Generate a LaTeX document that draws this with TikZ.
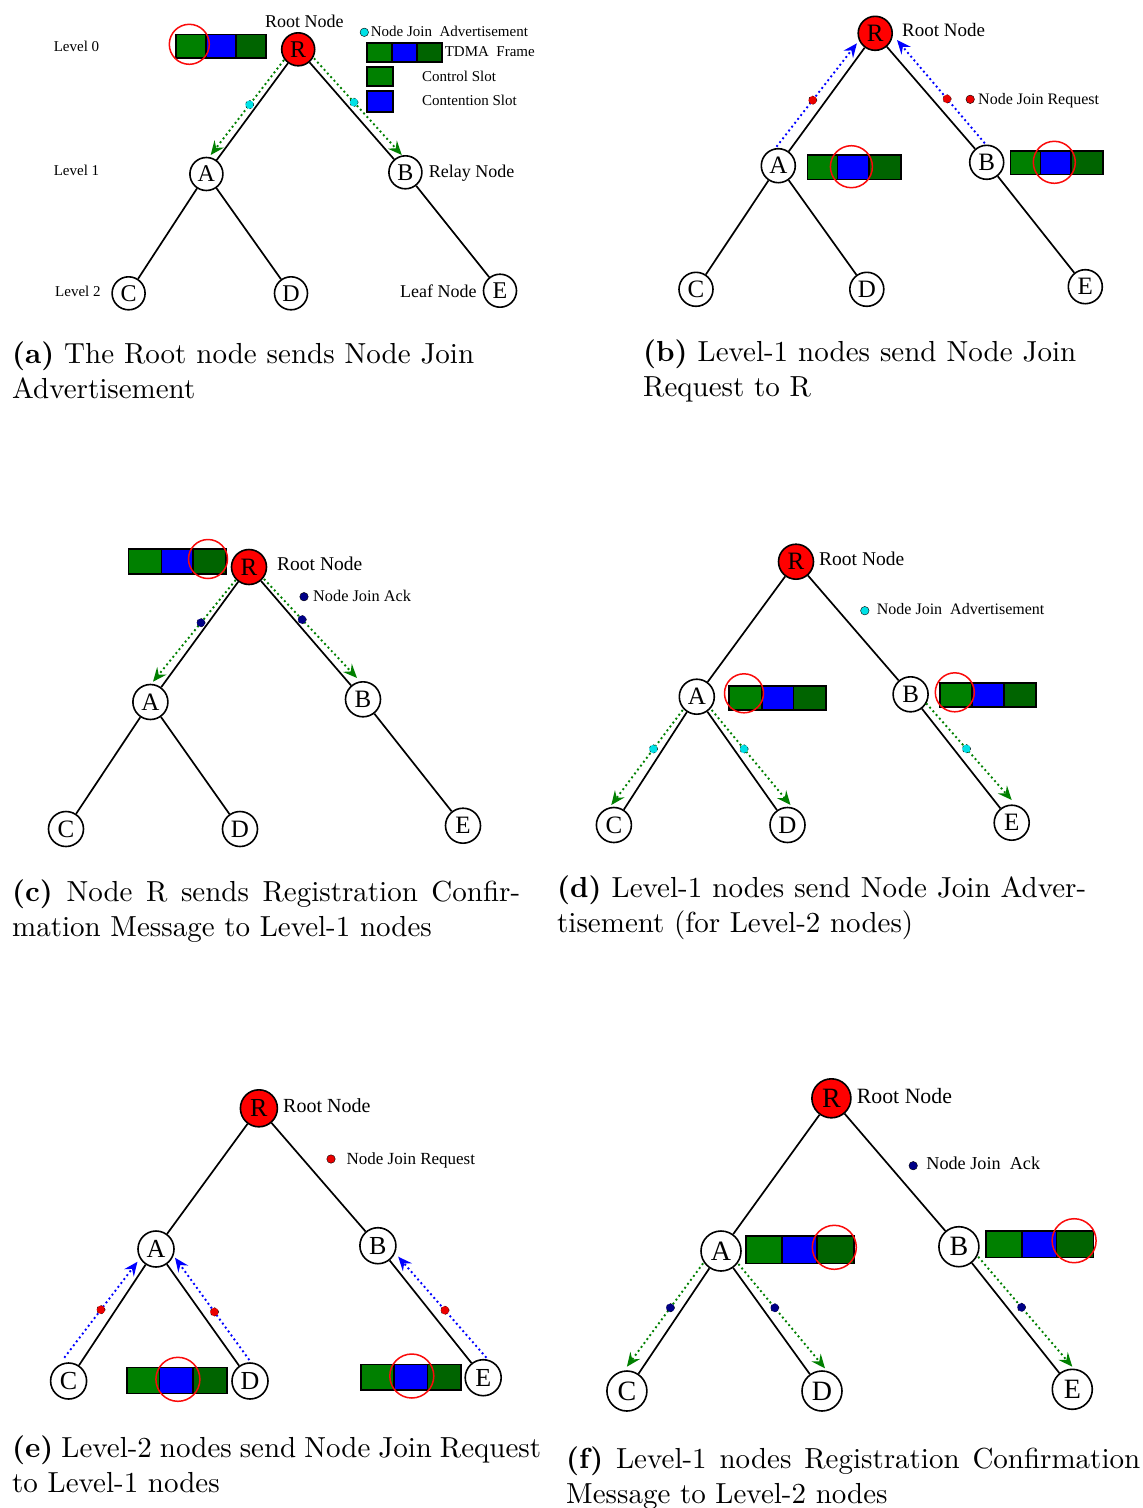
\documentclass[tikz,border=0pt]{standalone}
\usepackage{fontspec}
\newfontfamily\tms{Liberation Serif}
\newfontfamily\capfont{lmroman10-regular}[Extension=.otf,BoldFont=lmroman10-bold]
\usetikzlibrary{arrows.meta,calc}

\definecolor{slotctrl}{RGB}{0,128,0}
\definecolor{slotcont}{RGB}{0,0,255}
\definecolor{slotdark}{RGB}{0,100,0}
\definecolor{rootred}{RGB}{255,0,0}
\definecolor{hired}{RGB}{250,10,10}
\definecolor{advcyan}{RGB}{0,225,230}
\definecolor{acknavy}{RGB}{0,0,135}
\definecolor{reqred}{RGB}{235,0,0}
\definecolor{arrgreen}{RGB}{0,128,0}
\definecolor{arrblue}{RGB}{0,0,255}

\def\nsz{33}\def\nfs{24}

\tikzset{
  tnode/.style={circle,draw,line width=1.6pt,fill=white,inner sep=0pt,
    minimum size=\nsz pt,font=\tms\fontsize{\nfs}{\nfs}\selectfont},
  rootnode/.style={tnode,fill=rootred},
  edge/.style={line width=1.7pt,black},
  lbl/.style={font=\tms\fontsize{#1}{#1}\selectfont,inner sep=0pt,anchor=base west},
  captxt/.style={font=\capfont\fontsize{29}{35}\selectfont,inner sep=0pt,anchor=base west},
  msg/.style={circle,draw=black,line width=0.4pt,fill=#1,inner sep=0pt,minimum size=8.5pt},
  advarrow/.style={draw=arrgreen,line width=1.9pt,dash pattern=on 1.9pt off 3pt,
    -{Stealth[length=14pt,width=12pt,inset=5pt]}},
  reqarrow/.style={draw=arrblue,line width=1.9pt,dash pattern=on 1.9pt off 3pt,
    -{Stealth[length=14pt,width=12pt,inset=5pt]}},
  slotline/.style={draw=black,line width=1.6pt},
  hilite/.style={draw=hired,line width=1.5pt},
}

% three-slot TDMA frame: x0 x1 x2 x3 ytop ybottom
\newcommand\slotframe[6]{%
  \filldraw[slotline,fill=slotctrl] (#1,#5) rectangle (#2,#6);
  \filldraw[slotline,fill=slotcont] (#2,#5) rectangle (#3,#6);
  \filldraw[slotline,fill=slotdark] (#3,#5) rectangle (#4,#6);}

% tree edges R-A, R-B, A-C, A-D, B-E for a panel prefix
\newcommand\treeedges[1]{%
  \draw[edge] (#1R)--(#1A) (#1R)--(#1B) (#1A)--(#1C) (#1A)--(#1D) (#1B)--(#1E);}

\begin{document}
\begin{tikzpicture}[x=1pt,y=-1pt]
\useasboundingbox (0,0) rectangle (1143,1508);
\fill[white] (0,0) rectangle (1143,1508);

% ---------------- (a) ----------------
\def\nsz{33}\def\nfs{24}
\node[rootnode] (aR) at (298.2,49.3) {R};
\node[tnode] (aA) at (206.4,174) {A};
\node[tnode] (aB) at (405.4,172.3) {B};
\node[tnode] (aC) at (128.6,293.3) {C};
\node[tnode] (aD) at (291,293.3) {D};
\node[tnode] (aE) at (500,290.7) {E};
\treeedges{a}
\slotframe{176}{206}{235.7}{266}{34.3}{57.7}
\draw[hilite] (189.3,44.3) circle (20);
\draw[advarrow] ($(aR)+(-14.2,10.7)$) -- node[msg=advcyan,pos=0.47] (am1) {} ($(aA)+(4.3,-19)$);
\draw[advarrow] ($(aR)+(15.8,9)$) -- node[msg=advcyan,pos=0.455] (am2) {} ($(aB)+(-3.6,-17.3)$);
\node[lbl=18] (aroot) at (265,27) {Root Node};
\node[lbl=15] (alev0) at (53.6,51.8) {Level 0};
\node[lbl=15] (alev1) at (53.6,175.2) {Level 1};
\node[lbl=15] (alev2) at (55,296.8) {Level 2};
\node[lbl=18] (arelay) at (428.6,177.1) {Relay Node};
\node[lbl=18] (aleaf) at (400,297.7) {Leaf Node};
\node[msg=advcyan] (akey) at (364.3,32.3) {};
\node[lbl=15] (akeytxt) at (370.7,36.8) {Node Join~~Advertisement};
\slotframe{367}{391.8}{416.8}{441.8}{42.7}{61.7}
\node[lbl=15] (aframetxt) at (444.6,56.8) {TDMA~~Frame};
\filldraw[slotline,fill=slotctrl] (367,66.7) rectangle (392.9,86);
\node[lbl=15] (actrltxt) at (422,81.8) {Control Slot};
\filldraw[slotline,fill=slotcont] (367,91) rectangle (392.9,111.7);
\node[lbl=15] (aconttxt) at (422,105.5) {Contention Slot};
\node[captxt] (capa1) at (12,363) {\makebox[462pt][s]{\textbf{(a)} The Root node sends Node Join}};
\node[captxt] (capa2) at (12,398) {Advertisement};

% ---------------- (b) ----------------
\def\nsz{34}\def\nfs{25}
\node[rootnode] (bR) at (875.2,33.3) {R};
\node[tnode] (bA) at (778.3,165.7) {A};
\node[tnode] (bB) at (986.7,162.3) {B};
\node[tnode] (bC) at (696,289.3) {C};
\node[tnode] (bD) at (866.8,289.3) {D};
\node[tnode] (bE) at (1085.3,286.7) {E};
\treeedges{b}
\slotframe{807.6}{837.5}{869}{900.8}{155}{179.3}
\draw[hilite] (851.4,166.7) circle (21);
\slotframe{1010.4}{1040.4}{1070.7}{1102.9}{150.7}{174.3}
\draw[hilite] (1054.3,162.3) circle (21);
\draw[reqarrow] ($(bA)+(-1.8,-19)$) -- node[msg=reqred,pos=0.45] (bm1) {} ($(bR)+(-18.3,10)$);
\draw[reqarrow] ($(bB)+(-1.9,-19)$) -- node[msg=reqred,pos=0.43] (bm2) {} ($(bR)+(21.8,6.7)$);
\node[lbl=19] (broot) at (902,36.7) {Root Node};
\node[msg=reqred] (bkey) at (970.2,99.3) {};
\node[lbl=16] (bkeytxt) at (978,104.8) {Node Join Request};
\node[captxt] (capb1) at (643,361) {\makebox[433pt][s]{\textbf{(b)} Level-1 nodes send Node Join}};
\node[captxt] (capb2) at (643,396) {Request to R};

% ---------------- (c) ----------------
\def\nsz{35}\def\nfs{25}
\node[rootnode] (cR) at (249,567) {R};
\node[tnode] (cA) at (150.4,702) {A};
\node[tnode] (cB) at (363,699.3) {B};
\node[tnode] (cC) at (66,829) {C};
\node[tnode] (cD) at (240,829) {D};
\node[tnode] (cE) at (463,825.7) {E};
\treeedges{c}
\slotframe{128.6}{161.4}{192.9}{225.7}{549}{574}
\draw[hilite] (208,559) circle (19.5);
\draw[advarrow] ($(cR)+(-13.3,13)$) -- node[msg=acknavy,pos=0.42] (cm1) {} ($(cA)+(2.6,-20.3)$);
\draw[advarrow] ($(cR)+(15,12)$) -- node[msg=acknavy,pos=0.41] (cm2) {} ($(cB)+(-6,-21.3)$);
\node[lbl=19.5] (croot) at (277,570.9) {Root Node};
\node[msg=acknavy] (ckey) at (304,596.7) {};
\node[lbl=16.3] (ckeytxt) at (313,601.6) {Node Join Ack};
\node[captxt] (capc1) at (12,901) {\makebox[508pt][s]{\textbf{(c)} Node R sends Registration Confir-}};
\node[captxt] (capc2) at (12,936) {mation Message to Level-1 nodes};

% ---------------- (d) ----------------
\def\nsz{35}\def\nfs{25}
\node[rootnode] (dR) at (796,561.7) {R};
\node[tnode] (dA) at (696.8,696.7) {A};
\node[tnode] (dB) at (910.6,694.3) {B};
\node[tnode] (dC) at (613.9,825) {C};
\node[tnode] (dD) at (787.5,825) {D};
\node[tnode] (dE) at (1011.7,822.7) {E};
\treeedges{d}
\slotframe{729}{761.9}{793.5}{825.8}{685.7}{710}
\draw[hilite] (744,693.3) circle (19.5);
\slotframe{940}{971.9}{1004.2}{1035.8}{682.7}{706.7}
\draw[hilite] (954.8,692.3) circle (19.5);
\draw[advarrow] ($(dA)+(-14.1,13.3)$) -- node[msg=advcyan,pos=0.41] (dm1) {} ($(dC)+(-2.6,-20)$);
\draw[advarrow] ($(dA)+(14.9,13.3)$) -- node[msg=advcyan,pos=0.41] (dm2) {} ($(dD)+(3,-20)$);
\draw[advarrow] ($(dB)+(15.6,9)$) -- node[msg=advcyan,pos=0.47] (dm3) {} ($(dE)+(0,-22.7)$);
\node[lbl=19.5] (droot) at (819,565.9) {Root Node};
\node[msg=advcyan] (dkey) at (864.8,610.7) {};
\node[lbl=16] (dkeytxt) at (876.7,614.8) {Node Join~~Advertisement};
\node[captxt] (capd1) at (557,897) {\makebox[529pt][s]{\textbf{(d)} Level-1 nodes send Node Join Adver-}};
\node[captxt] (capd2) at (557,932) {tisement (for Level-2 nodes)};

% ---------------- (e) ----------------
\def\nsz{36}\def\nfs{26}
\node[rootnode,minimum size=37pt] (eR) at (258.9,1108.3) {R};
\node[tnode] (eA) at (156,1249) {A};
\node[tnode] (eB) at (377.9,1245.7) {B};
\node[tnode] (eC) at (68.6,1381) {C};
\node[tnode] (eD) at (250,1381) {D};
\node[tnode] (eE) at (483.2,1377.7) {E};
\treeedges{e}
\slotframe{126.8}{159.6}{192.9}{226.8}{1367.3}{1393.3}
\draw[hilite] (177.9,1379.3) circle (22);
\slotframe{360.7}{393.9}{427.5}{460.7}{1364.3}{1390}
\draw[hilite] (411.8,1376) circle (22);
\draw[reqarrow] ($(eC)+(-4.3,-23.3)$) -- node[msg=reqred,pos=0.5] (em1) {} ($(eA)+(-18.5,12.7)$);
\draw[reqarrow] ($(eD)+(-0.7,-21)$) -- node[msg=reqred,pos=0.47] (em2) {} ($(eA)+(19,8.7)$);
\draw[reqarrow] ($(eE)+(3.2,-20)$) -- node[msg=reqred,pos=0.47] (em3) {} ($(eB)+(20.3,11)$);
\node[lbl=20] (eroot) at (283,1112) {Root Node};
\node[msg=reqred] (ekey) at (331,1159) {};
\node[lbl=17] (ekeytxt) at (346.4,1164.1) {Node Join Request};
\node[captxt] (cape1) at (12,1457) {\makebox[529pt][s]{\textbf{(e)} Level-2 nodes send Node Join Request}};
\node[captxt] (cape2) at (12,1492) {to Level-1 nodes};

% ---------------- (f) ----------------
\def\nsz{40}\def\nfs{28}
\node[rootnode,minimum size=39pt] (fR) at (831.4,1098.3) {R};
\node[tnode] (fA) at (721,1251) {A};
\node[tnode] (fB) at (958.9,1246.7) {B};
\node[tnode] (fC) at (626.9,1391) {C};
\node[tnode] (fD) at (822,1391) {D};
\node[tnode] (fE) at (1072.3,1389.3) {E};
\treeedges{f}
\slotframe{745.9}{781.9}{817.2}{853.7}{1236}{1263.3}
\draw[hilite] (834.3,1247.3) circle (22);
\slotframe{985.7}{1022}{1056.3}{1093.5}{1231}{1257.3}
\draw[hilite] (1074.1,1240.7) circle (22);
\draw[advarrow] ($(fA)+(-17.9,12.3)$) -- node[msg=acknavy,pos=0.43] (fm1) {} ($(fC)+(0,-24.3)$);
\draw[advarrow] ($(fA)+(17.4,13)$) -- node[msg=acknavy,pos=0.42] (fm2) {} ($(fD)+(3,-22.7)$);
\draw[advarrow] ($(fB)+(19.3,10)$) -- node[msg=acknavy,pos=0.46] (fm3) {} ($(fE)+(0,-22.6)$);
\node[lbl=21.8] (froot) at (856.7,1103.2) {Root Node};
\node[msg=acknavy] (fkey) at (913.2,1165.7) {};
\node[lbl=18.2] (fkeytxt) at (926.2,1169.8) {Node Join~~Ack};
\node[captxt] (capf1) at (566,1468) {\makebox[574pt][s]{\textbf{(f)} Level-1 nodes Registration Confirmation}};
\node[captxt] (capf2) at (566,1503) {Message to Level-2 nodes};
\end{tikzpicture}
\end{document}
